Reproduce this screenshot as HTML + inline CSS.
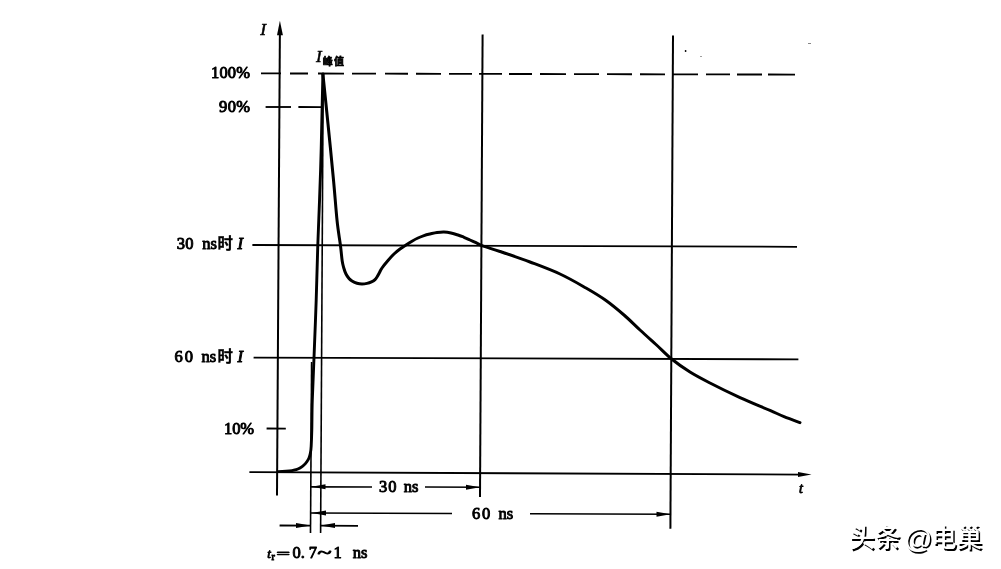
<!DOCTYPE html>
<html lang="zh"><head><meta charset="utf-8"><title>ESD 电流波形</title>
<style>
html,body{margin:0;padding:0;background:#fff;}
body{width:1001px;height:569px;overflow:hidden;position:relative;font-family:"Liberation Serif","Noto Serif CJK SC",serif;}
svg{position:absolute;left:0;top:0;display:block;}
.t{font-family:"Liberation Serif","Noto Serif CJK SC",serif;font-size:16.5px;font-weight:400;fill:#000;stroke:#000;stroke-width:0.95;stroke-linejoin:round;}
.i{font-style:italic;}
.cj{font-family:"Noto Sans CJK SC","Noto Serif CJK SC",sans-serif;font-weight:700;}
.wm{position:absolute;left:849.3px;top:520.2px;font-family:"Liberation Sans","Noto Sans CJK SC",sans-serif;font-weight:500;font-size:25.6px;line-height:36px;color:#fff;white-space:nowrap;word-spacing:-2.2px;text-shadow:1.5px 1.5px 0 #000;}
</style></head><body>
<svg width="1001" height="569" viewBox="0 0 1001 569">
<rect width="1001" height="569" fill="#fff"/>
<g stroke="#000" stroke-width="1.85" fill="none" stroke-linecap="butt">
<!-- axes -->
<line x1="279.9" y1="30" x2="277" y2="495.5" stroke-width="2"/>
<line x1="249.4" y1="472.1" x2="803" y2="474.6"/>
<!-- 100% dashed -->
<line x1="261" y1="73.40" x2="281" y2="73.44"/><line x1="290" y1="73.47" x2="308" y2="73.51"/><line x1="318" y1="73.53" x2="344" y2="73.59"/><line x1="352" y1="73.60" x2="376" y2="73.66"/><line x1="385" y1="73.68" x2="408" y2="73.73"/><line x1="416" y1="73.75" x2="441" y2="73.80"/><line x1="449" y1="73.82" x2="472" y2="73.87"/><line x1="479" y1="73.89" x2="502" y2="73.94"/><line x1="509" y1="73.96" x2="532" y2="74.01"/><line x1="540" y1="74.03" x2="566" y2="74.09"/><line x1="574" y1="74.10" x2="599" y2="74.16"/><line x1="607" y1="74.18" x2="632" y2="74.23"/><line x1="640" y1="74.25" x2="665" y2="74.31"/><line x1="673" y1="74.33" x2="698" y2="74.38"/><line x1="706" y1="74.40" x2="730" y2="74.45"/><line x1="737" y1="74.47" x2="762" y2="74.53"/><line x1="768" y1="74.54" x2="795" y2="74.60"/>
<!-- 90% -->
<line x1="265.6" y1="107" x2="291" y2="107"/><line x1="298.4" y1="107" x2="322" y2="107.2"/>
<!-- 30ns / 60ns horizontals -->
<line x1="252.4" y1="245" x2="797" y2="246.8"/>
<line x1="253.6" y1="357.6" x2="798.4" y2="359.4"/>
<!-- 10% tick -->
<line x1="266.6" y1="428.5" x2="285.8" y2="428.6"/>
<!-- verticals -->
<line x1="482.6" y1="34.4" x2="480" y2="497" stroke-width="2"/>
<line x1="673" y1="35.6" x2="670.4" y2="528.8" stroke-width="2"/>
<line x1="311.6" y1="362" x2="310.5" y2="533" stroke-width="1.6"/>
<line x1="323.2" y1="74" x2="320.6" y2="533" stroke-width="1.6"/>
<!-- dims -->
<line x1="311" y1="486.8" x2="372" y2="487" stroke-width="1.7"/><line x1="425" y1="487" x2="480" y2="487.2" stroke-width="1.5"/>
<line x1="311" y1="513" x2="452" y2="513.5" stroke-width="1.7"/><line x1="530" y1="513.8" x2="670.5" y2="514.3" stroke-width="1.5"/>
<line x1="279.6" y1="525.5" x2="310.5" y2="525.6"/><line x1="320.4" y1="525.6" x2="358" y2="525.8"/>
</g>
<g fill="#000" stroke="none">
<polygon points="279.9,20.8 282.9,35.3 277,35.3"/>
<polygon points="811.5,474.6 798,472.1 798,477.1"/>
<polygon points="311.5,486.8 325.5,484.3 325.5,489.3"/>
<polygon points="480,487.2 466,484.7 466,489.7"/>
<polygon points="311.5,513 326,510.5 326,515.5"/>
<polygon points="670.5,514.3 656.5,511.8 656.5,516.8"/>
<polygon points="310.5,525.6 296,523.1 296,528.1"/>
<polygon points="320.6,525.6 335,523.1 335,528.1"/>
</g>
<path d="M278.0 471.6 C279.3 471.6 283.7 471.5 286.0 471.3 C288.3 471.1 290.3 470.9 292.0 470.6 C293.7 470.3 294.7 470.0 296.0 469.6 C297.3 469.2 298.7 468.8 300.0 468.0 C301.3 467.2 302.8 466.1 304.0 465.0 C305.2 463.9 306.2 462.7 307.0 461.5 C307.8 460.3 308.4 459.4 309.0 458.0 C309.6 456.6 310.0 455.0 310.4 453.0 C310.8 451.0 311.0 449.8 311.2 446.0 C311.4 442.2 311.6 437.7 311.8 430.0 C312.0 422.3 311.9 412.1 312.3 400.0 C312.7 387.9 313.4 374.3 314.0 357.6 C314.6 340.9 315.6 318.8 316.2 300.0 C316.8 281.2 317.1 266.7 317.8 245.0 C318.5 223.3 319.9 194.2 320.6 170.0 C321.4 145.8 321.9 116.0 322.3 100.0 C322.7 84.0 322.8 78.3 322.9 74.0" fill="none" stroke="#000" stroke-width="2.9" stroke-linejoin="miter" stroke-linecap="butt"/>
<path d="M322.9 74.0 C323.8 82.3 326.2 106.3 328.0 124.0 C329.8 141.7 332.0 164.0 333.5 180.0 C335.0 196.0 335.9 209.2 337.0 220.0 C338.1 230.8 339.5 238.2 340.4 245.0 C341.3 251.8 341.6 257.2 342.2 261.0 C342.8 264.8 343.2 265.8 343.8 268.0 C344.4 270.2 345.1 272.2 346.0 274.0 C346.9 275.8 348.0 277.3 349.0 278.5 C350.0 279.7 350.7 280.2 352.0 281.0 C353.3 281.8 355.3 282.8 357.0 283.3 C358.7 283.8 360.3 284.0 362.0 284.0 C363.7 284.0 365.3 283.8 367.0 283.4 C368.7 283.0 370.7 282.2 372.0 281.6 C373.3 281.0 374.2 280.4 375.0 279.6 C375.8 278.8 376.2 278.2 377.0 277.0 C377.8 275.8 378.7 274.0 379.5 272.5 C380.3 271.0 380.6 270.0 382.0 268.0 C383.4 266.0 386.0 262.8 388.0 260.5 C390.0 258.2 392.0 255.9 394.0 254.0 C396.0 252.1 398.0 250.5 400.0 249.0 C402.0 247.5 404.0 246.3 406.0 245.0 C408.0 243.7 410.0 242.4 412.0 241.2 C414.0 240.0 416.0 238.9 418.0 238.0 C420.0 237.1 422.0 236.3 424.0 235.6 C426.0 234.9 427.8 234.5 430.0 234.0 C432.2 233.5 434.7 232.8 437.0 232.5 C439.3 232.2 441.7 231.9 444.0 232.0 C446.3 232.1 448.7 232.5 451.0 233.0 C453.3 233.5 455.8 234.3 458.0 235.0 C460.2 235.7 462.0 236.5 464.0 237.3 C466.0 238.1 468.0 239.1 470.0 240.0 C472.0 240.9 474.0 241.8 476.0 242.7 C478.0 243.6 478.0 244.1 482.0 245.6 C486.0 247.1 492.0 248.8 500.0 251.5 C508.0 254.2 520.0 258.2 530.0 262.0 C540.0 265.8 550.7 269.7 560.0 274.0 C569.3 278.3 578.3 283.6 586.0 288.0 C593.7 292.4 599.7 296.0 606.0 300.5 C612.3 305.0 618.3 310.1 624.0 315.0 C629.7 319.9 634.7 325.1 640.0 330.0 C645.3 334.9 650.7 339.7 656.0 344.5 C661.3 349.3 665.9 354.4 671.6 359.0 C677.3 363.6 683.6 368.0 690.0 372.0 C696.4 376.0 701.7 378.7 710.0 383.0 C718.3 387.3 730.0 393.0 740.0 397.6 C750.0 402.2 762.7 407.2 770.0 410.4 C777.3 413.6 779.0 414.6 784.0 416.6 C789.0 418.6 797.3 421.6 800.0 422.6" fill="none" stroke="#000" stroke-width="3" stroke-linejoin="round" stroke-linecap="round"/>
<!-- labels -->
<text class="t i" x="260.3" y="35" style="font-size:17.5px;stroke-width:0.5">I</text>
<text class="t" x="211" y="78" textLength="39" lengthAdjust="spacing">100%</text>
<text class="t" x="219" y="112" textLength="31" lengthAdjust="spacing">90%</text>
<text class="t i" x="315.9" y="62" style="font-size:17px;stroke-width:0.5">I</text>
<text class="t cj" x="322.8" y="64.8" textLength="21.2" lengthAdjust="spacing" style="font-size:10px;stroke-width:0.7">峰值</text>
<text class="t" x="176.8" y="249" textLength="16.6" lengthAdjust="spacing">30</text><text class="t" x="202.2" y="249">ns</text><text class="t cj" x="217.4" y="248.7" style="font-size:15.4px;stroke-width:0.3">时</text><text class="t i" x="237.6" y="249">I</text>
<text class="t" x="174.4" y="361.8" textLength="18.6" lengthAdjust="spacing">60</text><text class="t" x="201.6" y="361.8">ns</text><text class="t cj" x="217.4" y="361.5" style="font-size:15.4px;stroke-width:0.3">时</text><text class="t i" x="237.6" y="361.8">I</text>
<text class="t" x="224" y="433.6" textLength="30" lengthAdjust="spacing">10%</text>
<text class="t" x="379" y="492.4" textLength="17.6" lengthAdjust="spacing">30</text><text class="t" x="403.8" y="492.4">ns</text>
<text class="t" x="472" y="518.6" textLength="18.2" lengthAdjust="spacing">60</text><text class="t" x="498.4" y="518.6">ns</text>
<text class="t i" x="799" y="492.8" style="font-size:14px;stroke-width:0.8">t</text>
<text class="t i" x="267.2" y="558" style="font-size:13px;stroke-width:0.9">t</text><text class="t" x="271.4" y="560" style="font-size:10px">r</text>
<text class="t" x="276.6" y="557.6" textLength="13.4" lengthAdjust="spacingAndGlyphs" style="font-size:12.5px">=</text>
<text class="t" x="292.6" y="558">0.</text><text class="t" x="308.8" y="558">7</text>
<text class="t" x="317.4" y="557.6" textLength="14" lengthAdjust="spacingAndGlyphs">~</text>
<text class="t" x="333.4" y="558">1</text><text class="t" x="352.8" y="558">ns</text>
<!-- scan specks -->
<g fill="#000" stroke="none"><circle cx="685.6" cy="51" r="0.9"/><circle cx="701" cy="56.6" r="0.5"/><rect x="808" y="43" width="3" height="0.8" opacity="0.6"/></g>
</svg>
<div class="wm">头条 <span style="font-size:28px;margin:0 -1.4px 0 -1.4px;position:relative;top:0.8px">@</span>电巢</div>
</body></html>
